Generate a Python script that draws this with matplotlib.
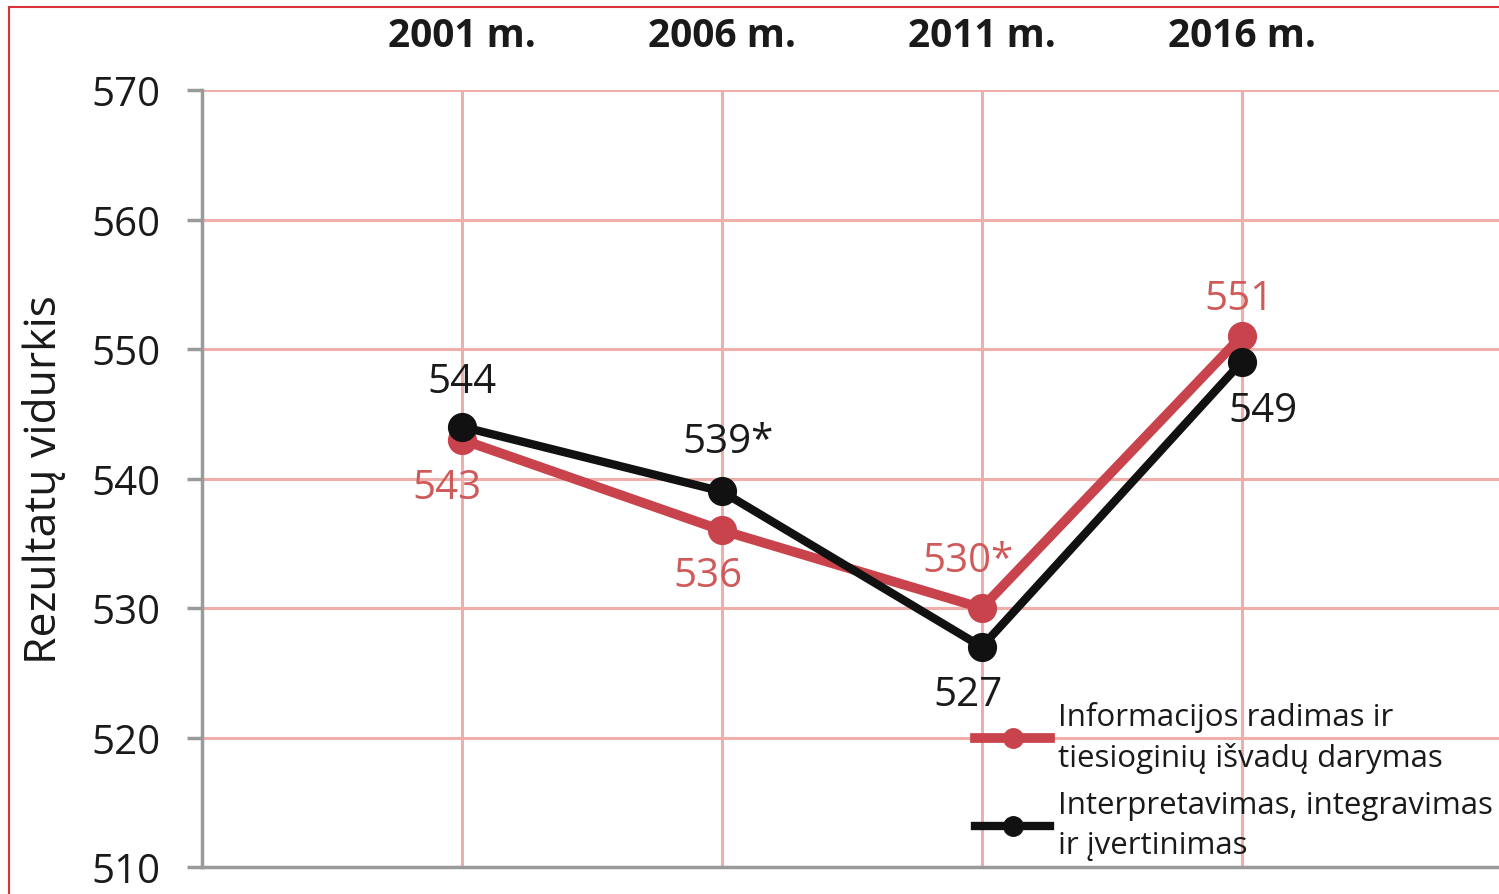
import matplotlib.pyplot as plt
from matplotlib.patches import Rectangle

plt.rcParams['font.family'] = ['Open Sans', 'DejaVu Sans']

years = ['2001 m.', '2006 m.', '2011 m.', '2016 m.']
x = [0, 1, 2, 3]
info = [543, 536, 530, 551]
interp = [544, 539, 527, 549]
info_labels = ['543', '536', '530*', '551']
interp_labels = ['544', '539*', '527', '549']
legend = ['Informacijos radimas ir\ntiesioginių išvadų darymas',
          'Interpretavimas, integravimas\nir įvertinimas']

red = '#c8434b'
red_txt = '#cf5a5a'
grid_c = '#f0aeaa'
gray = '#9a9a9a'

fig = plt.figure(figsize=(14.99, 8.95), dpi=100)
ax = fig.add_axes([202 / 1499, 1 - 868 / 895, 1 - 202 / 1499, (868 - 91) / 895])

ax.plot(x, info, color=red, lw=7, marker='o', ms=20, zorder=3, label=legend[0])
ax.plot(x, interp, color='#111111', lw=6, marker='o', ms=20, zorder=4, label=legend[1])

# value labels, offsets in pixels
info_off = [(-15, -48), (-14, -45), (-14, 47), (-3, 37)]
interp_off = [(0, 45), (6, 50), (-14, -48), (21, -49)]
for i in range(4):
    ax.annotate(info_labels[i], (x[i], info[i]), xytext=info_off[i], textcoords='offset pixels',
                ha='center', va='center', fontsize=29, color=red_txt, zorder=5)
    ax.annotate(interp_labels[i], (x[i], interp[i]), xytext=interp_off[i], textcoords='offset pixels',
                ha='center', va='center', fontsize=29, color='#1a1a1a', zorder=5)

ax.set_xlim(-1, 3.99)
ax.set_ylim(510, 570)
ax.set_yticks(range(510, 571, 10))
ax.set_xticks(x)
ax.set_xticklabels(years, fontweight='bold', fontsize=28, color='#1a1a1a')
ax.tick_params(axis='x', top=True, bottom=False, labeltop=True, labelbottom=False, length=0, pad=25)
ax.tick_params(axis='y', length=11, width=2.5, color=gray, pad=19, labelsize=29, labelcolor='#1a1a1a')
ax.grid(True, color=grid_c, lw=2.2)
ax.set_axisbelow(True)
for s in ['top', 'right']:
    ax.spines[s].set_visible(False)
for s in ['left', 'bottom']:
    ax.spines[s].set_color(gray)
    ax.spines[s].set_linewidth(2.5)
ax.set_ylabel('Rezultatų vidurkis', fontsize=32, color='#1a1a1a', labelpad=18)
ax.patch.set_alpha(0)

leg = ax.legend(loc='upper left', bbox_to_anchor=(975 / 1499, 1 - 702 / 895), bbox_transform=fig.transFigure,
                frameon=False, fontsize=22.5, borderpad=0, borderaxespad=0, handlelength=2.4,
                handletextpad=0.25, labelspacing=0.55, markerscale=0.7, labelcolor='#1a1a1a')
for t in leg.get_texts():
    t.set_linespacing(1.42)

fig.patches.append(Rectangle((9 / 1499, -0.05), 1.2, 1 - 8 / 895 + 0.05, transform=fig.transFigure,
                             fill=False, edgecolor='#d9333a', lw=1.5))

fig.savefig('out.png', dpi=100)
